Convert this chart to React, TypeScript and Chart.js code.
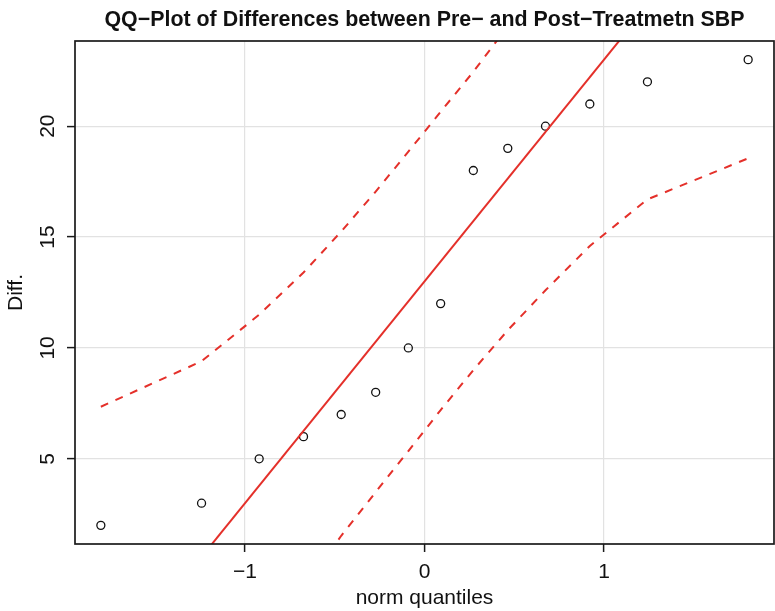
import React, { useEffect, useRef } from "react";
import { Chart, registerables } from "chart.js";

Chart.register(...registerables);

// ---- data ----
const quantiles = [-1.803, -1.242, -0.921, -0.674, -0.464, -0.272, -0.090, 0.090, 0.272, 0.464, 0.674, 0.921, 1.242, 1.803];
const diffs = [2, 3, 5, 6, 7, 8, 10, 12, 18, 19, 20, 21, 22, 23];
const upperEnv = [7.35, 9.40, 11.50, 13.40, 15.25, 17.05, 18.85, 20.65, 22.45, 24.5, 26.9, 29.9, 34.2, 43.4];
const lowerEnv = [-17.4, -8.2, -3.89, -0.88, 1.53, 3.5, 5.35, 7.2, 9.0, 10.8, 12.6, 14.6, 16.7, 18.55];
const fitLineX = [-2, 2];
const fitLineY = [-7, 33];
const xTicks = [-1, 0, 1];
const yTicks = [5, 10, 15, 20];
const xRange = [-1.947, 1.947];
const yRange = [1.16, 23.84];
const titleText = "QQ\u2212Plot of Differences between Pre\u2212 and Post\u2212Treatmetn SBP";
const xLabel = "norm quantiles";
const yLabel = "Diff.";

const RED = "#e4302a";
const FONT = '"Liberation Sans", Arial, Helvetica, sans-serif';

const fmt = (v: number) => (v < 0 ? "\u2212" + Math.abs(v) : String(v));

const framePlugin = {
  id: "frameAndTitle",
  afterDraw(chart: any) {
    const { ctx, chartArea } = chart;
    const { left, top, right, bottom } = chartArea;
    ctx.save();
    ctx.strokeStyle = "#1a1a1a";
    ctx.lineWidth = 1.7;
    ctx.strokeRect(left, top, right - left, bottom - top);
    ctx.font = "bold 21.4px " + FONT;
    ctx.fillStyle = "#111";
    ctx.textAlign = "center";
    ctx.textBaseline = "alphabetic";
    ctx.fillText(titleText, (left + right) / 2, 26);
    ctx.restore();
  },
};

export default function App() {
  const ref = useRef<HTMLCanvasElement | null>(null);

  useEffect(() => {
    document.body.style.margin = "0";
    const canvas = ref.current;
    if (!canvas) return;
    const toXY = (xs: number[], ys: number[]) => xs.map((x, i) => ({ x, y: ys[i] }));

    const chart = new Chart(canvas, {
      type: "scatter",
      data: {
        datasets: [
          {
            label: "fit",
            data: toXY(fitLineX, fitLineY),
            showLine: true,
            borderColor: RED,
            borderWidth: 2,
            pointRadius: 0,
          },
          {
            label: "upper",
            data: toXY(quantiles, upperEnv),
            showLine: true,
            borderColor: RED,
            borderWidth: 2,
            borderDash: [8, 8],
            pointRadius: 0,
          },
          {
            label: "lower",
            data: toXY(quantiles, lowerEnv),
            showLine: true,
            borderColor: RED,
            borderWidth: 2,
            borderDash: [8, 8],
            pointRadius: 0,
          },
          {
            label: "Diff.",
            data: toXY(quantiles, diffs),
            showLine: false,
            pointRadius: 4,
            pointBorderWidth: 1.3,
            borderColor: "#111",
            backgroundColor: "rgba(0,0,0,0)",
            pointBackgroundColor: "rgba(0,0,0,0)",
            pointBorderColor: "#111",
          },
        ],
      },
      options: {
        responsive: false,
        animation: false,
        devicePixelRatio: 1,
        layout: { autoPadding: false, padding: { top: 41, right: 1, left: 0, bottom: 0 } },
        plugins: { legend: { display: false }, tooltip: { enabled: false }, title: { display: false } },
        scales: {
          x: {
            type: "linear",
            min: xRange[0],
            max: xRange[1],
            afterBuildTicks: (s: any) => {
              s.ticks = xTicks.map((v) => ({ value: v }));
            },
            afterFit: (s: any) => {
              s.height = 67;
            },
            grid: { color: "#e2e2e2", lineWidth: 1.2, drawTicks: true, tickLength: 8, tickColor: "#1a1a1a", tickWidth: 1.5 },
            border: { display: false },
            ticks: {
              callback: (v: any) => fmt(Number(v)),
              font: { family: FONT, size: 21 },
              color: "#111",
              padding: 8,
              maxRotation: 0,
              autoSkip: false,
            },
            title: {
              display: true,
              text: xLabel,
              font: { family: FONT, size: 21 },
              color: "#111",
              padding: { top: 0, bottom: 0 },
            },
          },
          y: {
            type: "linear",
            min: yRange[0],
            max: yRange[1],
            afterBuildTicks: (s: any) => {
              s.ticks = yTicks.map((v) => ({ value: v }));
            },
            afterFit: (s: any) => {
              s.width = 75;
            },
            grid: { color: "#e2e2e2", lineWidth: 1.2, drawTicks: true, tickLength: 8, tickColor: "#1a1a1a", tickWidth: 1.5 },
            border: { display: false },
            ticks: {
              callback: (v: any) => fmt(Number(v)),
              font: { family: FONT, size: 21 },
              color: "#111",
              padding: 7,
              minRotation: 90,
              maxRotation: 90,
              crossAlign: "center",
              autoSkip: false,
            },
            title: {
              display: true,
              text: yLabel,
              font: { family: FONT, size: 21 },
              color: "#111",
              padding: { top: 4, bottom: 0 },
            },
          },
        },
      },
      plugins: [framePlugin],
    } as any);

    return () => chart.destroy();
  }, []);

  return (
    <div style={{ position: "absolute", left: 0, top: 0, width: 775, height: 611, background: "#fff" }}>
      <canvas ref={ref} width={775} height={611} style={{ display: "block", width: 775, height: 611 }} />
    </div>
  );
}
